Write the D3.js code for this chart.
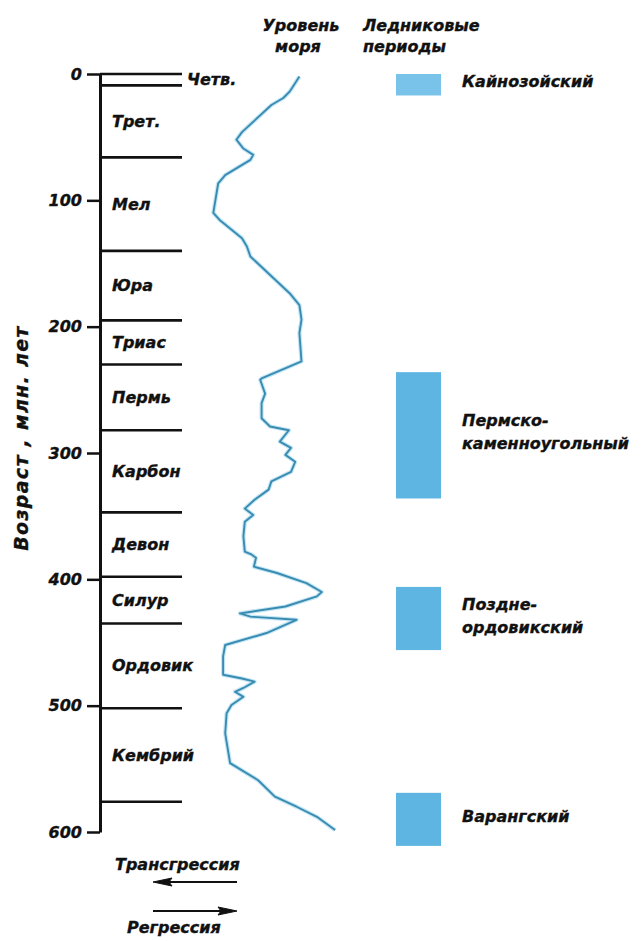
<!DOCTYPE html>
<html><head><meta charset="utf-8">
<script src="https://cdn.jsdelivr.net/npm/d3@7"></script>
<style>
body{margin:0;background:#fff;}
svg text{font-family:"DejaVu Sans",sans-serif;font-weight:bold;font-style:italic;fill:#111;stroke:#111;stroke-width:0.35px;}
</style></head><body>
<svg id="chart" width="643" height="941"></svg>
<script>
// ---- data ----
const ageTicks = [0, 100, 200, 300, 400, 500, 600];
const periodBounds = [0, 9, 66, 140, 195, 230, 282, 347, 398, 435, 502, 576];
const periodNames = ["Четв.", "Трет.", "Мел", "Юра", "Триас", "Пермь", "Карбон", "Девон", "Силур", "Ордовик", "Кембрий"];

const glacialNames = [["Кайнозойский"], ["Пермско-", "каменноугольный"], ["Поздне-", "ордовикский"], ["Варангский"]];
const glacialStart = [0, 236, 406, 569];
const glacialEnd = [17, 336, 456, 611];

// age (million years) and relative sea level (higher = transgression)
const seaAge = [2,14,19,24.5,46,52,59,64,68,80,86.5,110,115.5,130,136.5,144.5,173.5,183,194.5,205,
  227.5,241,242,253,260.5,272.5,279,282,291,296,301.5,307,315,322.5,329,337,344,349,354.5,366,
  378,380.5,383,390,395,403,410,413.5,421.5,427,429.5,432,442.5,452,461,475.5,478.5,481,486,489,
  493,499.5,506,522,545.5,559,572,580,588,598.5];
const seaLevel = [29,36,40.5,49,70,74,69,62,64,82,87,90.5,86,70,66.5,64,36,29,27.5,29,
  27.5,56,57,53.5,56,56,50,36.5,43,35,39,32,35,49,51,61,68,62,68,69,
  68,63,60,61.5,45,24,13,16.5,39,71.5,64,31,52.5,82,83.5,83.5,70,61,69,75,
  69,77.5,81,82,78.5,58.5,46.5,31,16.5,3.5];

const axisTitle = "Возраст , млн. лет";
const seaTitle = ["Уровень", "моря"];
const glacTitle = ["Ледниковые", "периоды"];
const transText = "Трансгрессия";
const regrText = "Регрессия";

// ---- drawing ----
const svg = d3.select("#chart");
const y = d3.scaleLinear().domain([0, 600]).range([74, 832]);
const x = d3.scaleLinear().domain([0, 100]).range([340, 200]);
const axisX = 100, periodRight = 182;

// axis
const ax = svg.append("g").attr("transform", `translate(${axisX},0)`)
  .call(d3.axisLeft(y).tickValues(ageTicks).tickSize(13).tickSizeOuter(0).tickPadding(5).tickFormat(d3.format("d")));
ax.select(".domain").attr("stroke", "#111").attr("stroke-width", 3);
ax.selectAll(".tick line").attr("stroke", "#111").attr("stroke-width", 2.5);
ax.selectAll(".tick text").attr("font-size", 16).attr("fill", "#111")
  .style("font-family", '"DejaVu Sans",sans-serif').style("font-weight", "bold").style("font-style", "italic");

// period boundaries
svg.append("g").selectAll("line").data(periodBounds).join("line")
  .attr("x1", axisX).attr("x2", periodRight)
  .attr("y1", d => y(d)).attr("y2", d => y(d))
  .attr("stroke", "#111").attr("stroke-width", 2.6);

// period names
svg.append("g").selectAll("text").data(periodNames).join("text")
  .attr("x", (d, i) => i === 0 ? periodRight + 5 : axisX + 12)
  .attr("y", (d, i) => i === 0 ? y(periodBounds[1]) : (y(periodBounds[i]) + y(periodBounds[i + 1])) / 2)
  .attr("dy", (d, i) => i === 0 ? "0" : "0.35em")
  .attr("font-size", 16)
  .text(d => d);

// y title
svg.append("text").attr("transform", `translate(28,438) rotate(-90)`)
  .attr("text-anchor", "middle").attr("font-size", 19).attr("letter-spacing", 1.3)
  .text(axisTitle);

// headings
svg.append("text").attr("x", 300).attr("y", 31).attr("text-anchor", "middle").attr("font-size", 16)
  .selectAll("tspan").data(seaTitle).join("tspan")
  .attr("x", (d, i) => 301 - i * 3).attr("dy", (d, i) => i ? 21 : 0).text(d => d);
svg.append("text").attr("x", 363).attr("y", 31).attr("font-size", 16)
  .selectAll("tspan").data(glacTitle).join("tspan")
  .attr("x", 363).attr("dy", (d, i) => i ? 21 : 0).text(d => d);

// glacial bars
const barX = 396, barW = 45;
svg.append("g").selectAll("rect").data(glacialStart).join("rect")
  .attr("x", barX).attr("width", barW)
  .attr("y", d => y(d)).attr("height", (d, i) => y(glacialEnd[i]) - y(d))
  .attr("fill", (d, i) => i === 0 ? "#79c3ea" : "#5fb5e2");

const gl = svg.append("g").selectAll("text").data(glacialNames).join("text")
  .attr("font-size", 16)
  .attr("transform", (d, i) => {
    const c = (y(glacialStart[i]) + y(glacialEnd[i])) / 2 - 3;
    return `translate(462,${c - (d.length - 1) * 11.5})`;
  });
gl.selectAll("tspan").data(d => d).join("tspan")
  .attr("x", 0).attr("y", (d, i) => i * 23).attr("dy", "0.35em").text(d => d);

// sea level curve
const pts = seaAge.map((a, i) => [x(seaLevel[i]), y(a)]);
const line = d3.line();
svg.append("path").attr("d", line(pts)).attr("fill", "none")
  .attr("stroke", "#a9dcef").attr("stroke-width", 4.2).attr("stroke-linejoin", "round").attr("opacity", 0.7);
svg.append("path").attr("d", line(pts)).attr("fill", "none")
  .attr("stroke", "#3a8bb2").attr("stroke-width", 1.9).attr("stroke-linejoin", "round");

// transgression / regression arrows
svg.append("text").attr("x", 115).attr("y", 870).attr("font-size", 16).text(transText);
svg.append("text").attr("x", 127).attr("y", 933).attr("font-size", 16).text(regrText);
const arr = svg.append("g").attr("stroke", "#111").attr("stroke-width", 2);
arr.append("line").attr("x1", 160).attr("x2", 237).attr("y1", 882).attr("y2", 882);
arr.append("path").attr("d", "M153,882 L172,878 L169,882 L172,886 Z").attr("fill", "#111").attr("stroke-width", 1);
arr.append("line").attr("x1", 153).attr("x2", 230).attr("y1", 911).attr("y2", 911);
arr.append("path").attr("d", "M237,911 L218,907 L221,911 L218,915 Z").attr("fill", "#111").attr("stroke-width", 1);
</script>
</body></html>
